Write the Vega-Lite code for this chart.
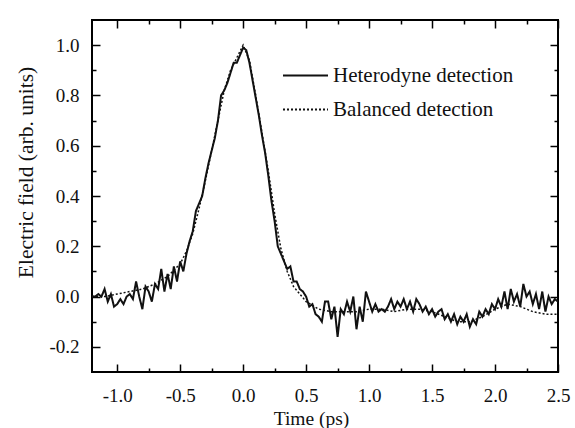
{
  "$schema": "https://vega.github.io/schema/vega-lite/v6.json",
  "autosize": {"type": "none"},
  "padding": {"left": 92, "top": 20, "right": 17, "bottom": 56},
  "width": 466,
  "height": 352,
  "background": "white",
  "config": {
    "view": {"stroke": "black", "strokeWidth": 2},
    "font": "Liberation Serif, Times New Roman, DejaVu Serif, serif",
    "legend": {"labelFont": "Liberation Serif, Times New Roman, DejaVu Serif, serif"},
    "axis": {"grid": false, "domain": false, "tickColor": "black", "tickWidth": 1.5, "labelFont": "Liberation Serif, Times New Roman, DejaVu Serif, serif", "titleFont": "Liberation Serif, Times New Roman, DejaVu Serif, serif", "labelColor": "#111", "titleColor": "#111", "titleFontWeight": "normal"}
  },
  "datasets": {
    "het": [
      {"t": -1.2, "v": 0.0, "s": "Heterodyne detection"},
      {"t": -1.175, "v": 0.0, "s": "Heterodyne detection"},
      {"t": -1.15, "v": 0.01, "s": "Heterodyne detection"},
      {"t": -1.125, "v": 0.0, "s": "Heterodyne detection"},
      {"t": -1.1, "v": 0.03, "s": "Heterodyne detection"},
      {"t": -1.075, "v": -0.02, "s": "Heterodyne detection"},
      {"t": -1.05, "v": 0.01, "s": "Heterodyne detection"},
      {"t": -1.025, "v": -0.04, "s": "Heterodyne detection"},
      {"t": -1.0, "v": -0.03, "s": "Heterodyne detection"},
      {"t": -0.975, "v": -0.01, "s": "Heterodyne detection"},
      {"t": -0.95, "v": -0.03, "s": "Heterodyne detection"},
      {"t": -0.925, "v": 0.0, "s": "Heterodyne detection"},
      {"t": -0.9, "v": 0.01, "s": "Heterodyne detection"},
      {"t": -0.875, "v": -0.01, "s": "Heterodyne detection"},
      {"t": -0.85, "v": 0.06, "s": "Heterodyne detection"},
      {"t": -0.825, "v": 0.0, "s": "Heterodyne detection"},
      {"t": -0.8, "v": -0.05, "s": "Heterodyne detection"},
      {"t": -0.775, "v": 0.04, "s": "Heterodyne detection"},
      {"t": -0.75, "v": 0.02, "s": "Heterodyne detection"},
      {"t": -0.725, "v": -0.02, "s": "Heterodyne detection"},
      {"t": -0.7, "v": 0.05, "s": "Heterodyne detection"},
      {"t": -0.675, "v": 0.03, "s": "Heterodyne detection"},
      {"t": -0.65, "v": 0.11, "s": "Heterodyne detection"},
      {"t": -0.625, "v": 0.02, "s": "Heterodyne detection"},
      {"t": -0.6, "v": 0.09, "s": "Heterodyne detection"},
      {"t": -0.575, "v": 0.03, "s": "Heterodyne detection"},
      {"t": -0.55, "v": 0.12, "s": "Heterodyne detection"},
      {"t": -0.525, "v": 0.06, "s": "Heterodyne detection"},
      {"t": -0.5, "v": 0.14, "s": "Heterodyne detection"},
      {"t": -0.475, "v": 0.1, "s": "Heterodyne detection"},
      {"t": -0.45, "v": 0.17, "s": "Heterodyne detection"},
      {"t": -0.425, "v": 0.22, "s": "Heterodyne detection"},
      {"t": -0.4, "v": 0.26, "s": "Heterodyne detection"},
      {"t": -0.375, "v": 0.34, "s": "Heterodyne detection"},
      {"t": -0.35, "v": 0.37, "s": "Heterodyne detection"},
      {"t": -0.325, "v": 0.4, "s": "Heterodyne detection"},
      {"t": -0.3, "v": 0.47, "s": "Heterodyne detection"},
      {"t": -0.275, "v": 0.53, "s": "Heterodyne detection"},
      {"t": -0.25, "v": 0.58, "s": "Heterodyne detection"},
      {"t": -0.225, "v": 0.63, "s": "Heterodyne detection"},
      {"t": -0.2, "v": 0.7, "s": "Heterodyne detection"},
      {"t": -0.175, "v": 0.8, "s": "Heterodyne detection"},
      {"t": -0.15, "v": 0.82, "s": "Heterodyne detection"},
      {"t": -0.125, "v": 0.85, "s": "Heterodyne detection"},
      {"t": -0.1, "v": 0.89, "s": "Heterodyne detection"},
      {"t": -0.075, "v": 0.93, "s": "Heterodyne detection"},
      {"t": -0.05, "v": 0.93, "s": "Heterodyne detection"},
      {"t": -0.025, "v": 0.96, "s": "Heterodyne detection"},
      {"t": 0.0, "v": 0.99, "s": "Heterodyne detection"},
      {"t": 0.025, "v": 0.98, "s": "Heterodyne detection"},
      {"t": 0.05, "v": 0.93, "s": "Heterodyne detection"},
      {"t": 0.075, "v": 0.86, "s": "Heterodyne detection"},
      {"t": 0.1, "v": 0.79, "s": "Heterodyne detection"},
      {"t": 0.125, "v": 0.72, "s": "Heterodyne detection"},
      {"t": 0.15, "v": 0.64, "s": "Heterodyne detection"},
      {"t": 0.175, "v": 0.57, "s": "Heterodyne detection"},
      {"t": 0.2, "v": 0.48, "s": "Heterodyne detection"},
      {"t": 0.225, "v": 0.38, "s": "Heterodyne detection"},
      {"t": 0.25, "v": 0.3, "s": "Heterodyne detection"},
      {"t": 0.275, "v": 0.2, "s": "Heterodyne detection"},
      {"t": 0.3, "v": 0.17, "s": "Heterodyne detection"},
      {"t": 0.325, "v": 0.14, "s": "Heterodyne detection"},
      {"t": 0.35, "v": 0.11, "s": "Heterodyne detection"},
      {"t": 0.375, "v": 0.12, "s": "Heterodyne detection"},
      {"t": 0.4, "v": 0.06, "s": "Heterodyne detection"},
      {"t": 0.425, "v": 0.06, "s": "Heterodyne detection"},
      {"t": 0.45, "v": 0.03, "s": "Heterodyne detection"},
      {"t": 0.475, "v": 0.02, "s": "Heterodyne detection"},
      {"t": 0.5, "v": 0.0, "s": "Heterodyne detection"},
      {"t": 0.525, "v": -0.04, "s": "Heterodyne detection"},
      {"t": 0.55, "v": -0.03, "s": "Heterodyne detection"},
      {"t": 0.575, "v": -0.07, "s": "Heterodyne detection"},
      {"t": 0.6, "v": -0.08, "s": "Heterodyne detection"},
      {"t": 0.625, "v": -0.1, "s": "Heterodyne detection"},
      {"t": 0.65, "v": -0.02, "s": "Heterodyne detection"},
      {"t": 0.675, "v": -0.02, "s": "Heterodyne detection"},
      {"t": 0.7, "v": -0.09, "s": "Heterodyne detection"},
      {"t": 0.725, "v": -0.04, "s": "Heterodyne detection"},
      {"t": 0.75, "v": -0.16, "s": "Heterodyne detection"},
      {"t": 0.775, "v": -0.05, "s": "Heterodyne detection"},
      {"t": 0.8, "v": -0.07, "s": "Heterodyne detection"},
      {"t": 0.825, "v": -0.02, "s": "Heterodyne detection"},
      {"t": 0.85, "v": -0.06, "s": "Heterodyne detection"},
      {"t": 0.875, "v": 0.0, "s": "Heterodyne detection"},
      {"t": 0.9, "v": -0.13, "s": "Heterodyne detection"},
      {"t": 0.925, "v": -0.04, "s": "Heterodyne detection"},
      {"t": 0.95, "v": -0.1, "s": "Heterodyne detection"},
      {"t": 0.975, "v": 0.02, "s": "Heterodyne detection"},
      {"t": 1.0, "v": -0.02, "s": "Heterodyne detection"},
      {"t": 1.025, "v": -0.06, "s": "Heterodyne detection"},
      {"t": 1.05, "v": -0.03, "s": "Heterodyne detection"},
      {"t": 1.075, "v": -0.06, "s": "Heterodyne detection"},
      {"t": 1.1, "v": -0.05, "s": "Heterodyne detection"},
      {"t": 1.125, "v": -0.06, "s": "Heterodyne detection"},
      {"t": 1.15, "v": -0.04, "s": "Heterodyne detection"},
      {"t": 1.175, "v": -0.01, "s": "Heterodyne detection"},
      {"t": 1.2, "v": -0.05, "s": "Heterodyne detection"},
      {"t": 1.225, "v": -0.02, "s": "Heterodyne detection"},
      {"t": 1.25, "v": -0.04, "s": "Heterodyne detection"},
      {"t": 1.275, "v": -0.01, "s": "Heterodyne detection"},
      {"t": 1.3, "v": -0.05, "s": "Heterodyne detection"},
      {"t": 1.325, "v": -0.02, "s": "Heterodyne detection"},
      {"t": 1.35, "v": -0.06, "s": "Heterodyne detection"},
      {"t": 1.375, "v": -0.01, "s": "Heterodyne detection"},
      {"t": 1.4, "v": -0.03, "s": "Heterodyne detection"},
      {"t": 1.425, "v": -0.06, "s": "Heterodyne detection"},
      {"t": 1.45, "v": -0.04, "s": "Heterodyne detection"},
      {"t": 1.475, "v": -0.07, "s": "Heterodyne detection"},
      {"t": 1.5, "v": -0.05, "s": "Heterodyne detection"},
      {"t": 1.525, "v": -0.08, "s": "Heterodyne detection"},
      {"t": 1.55, "v": -0.06, "s": "Heterodyne detection"},
      {"t": 1.575, "v": -0.05, "s": "Heterodyne detection"},
      {"t": 1.6, "v": -0.09, "s": "Heterodyne detection"},
      {"t": 1.625, "v": -0.07, "s": "Heterodyne detection"},
      {"t": 1.65, "v": -0.1, "s": "Heterodyne detection"},
      {"t": 1.675, "v": -0.07, "s": "Heterodyne detection"},
      {"t": 1.7, "v": -0.11, "s": "Heterodyne detection"},
      {"t": 1.725, "v": -0.08, "s": "Heterodyne detection"},
      {"t": 1.75, "v": -0.1, "s": "Heterodyne detection"},
      {"t": 1.775, "v": -0.07, "s": "Heterodyne detection"},
      {"t": 1.8, "v": -0.12, "s": "Heterodyne detection"},
      {"t": 1.825, "v": -0.09, "s": "Heterodyne detection"},
      {"t": 1.85, "v": -0.11, "s": "Heterodyne detection"},
      {"t": 1.875, "v": -0.06, "s": "Heterodyne detection"},
      {"t": 1.9, "v": -0.08, "s": "Heterodyne detection"},
      {"t": 1.925, "v": -0.05, "s": "Heterodyne detection"},
      {"t": 1.95, "v": -0.07, "s": "Heterodyne detection"},
      {"t": 1.975, "v": -0.03, "s": "Heterodyne detection"},
      {"t": 2.0, "v": -0.05, "s": "Heterodyne detection"},
      {"t": 2.025, "v": -0.01, "s": "Heterodyne detection"},
      {"t": 2.05, "v": -0.04, "s": "Heterodyne detection"},
      {"t": 2.075, "v": 0.02, "s": "Heterodyne detection"},
      {"t": 2.1, "v": -0.05, "s": "Heterodyne detection"},
      {"t": 2.125, "v": 0.03, "s": "Heterodyne detection"},
      {"t": 2.15, "v": -0.02, "s": "Heterodyne detection"},
      {"t": 2.175, "v": 0.01, "s": "Heterodyne detection"},
      {"t": 2.2, "v": -0.04, "s": "Heterodyne detection"},
      {"t": 2.225, "v": 0.05, "s": "Heterodyne detection"},
      {"t": 2.25, "v": 0.0, "s": "Heterodyne detection"},
      {"t": 2.275, "v": 0.02, "s": "Heterodyne detection"},
      {"t": 2.3, "v": -0.03, "s": "Heterodyne detection"},
      {"t": 2.325, "v": 0.01, "s": "Heterodyne detection"},
      {"t": 2.35, "v": -0.05, "s": "Heterodyne detection"},
      {"t": 2.375, "v": 0.02, "s": "Heterodyne detection"},
      {"t": 2.4, "v": -0.06, "s": "Heterodyne detection"},
      {"t": 2.425, "v": 0.0, "s": "Heterodyne detection"},
      {"t": 2.45, "v": -0.03, "s": "Heterodyne detection"},
      {"t": 2.475, "v": -0.01, "s": "Heterodyne detection"},
      {"t": 2.5, "v": -0.02, "s": "Heterodyne detection"}
    ],
    "bal": [
      {"t": -1.2, "v": 0.0, "s": "Balanced detection"},
      {"t": -1.1, "v": 0.0, "s": "Balanced detection"},
      {"t": -1.0, "v": 0.01, "s": "Balanced detection"},
      {"t": -0.9, "v": 0.02, "s": "Balanced detection"},
      {"t": -0.8, "v": 0.03, "s": "Balanced detection"},
      {"t": -0.7, "v": 0.05, "s": "Balanced detection"},
      {"t": -0.6, "v": 0.08, "s": "Balanced detection"},
      {"t": -0.5, "v": 0.13, "s": "Balanced detection"},
      {"t": -0.45, "v": 0.18, "s": "Balanced detection"},
      {"t": -0.4, "v": 0.25, "s": "Balanced detection"},
      {"t": -0.35, "v": 0.35, "s": "Balanced detection"},
      {"t": -0.3, "v": 0.46, "s": "Balanced detection"},
      {"t": -0.25, "v": 0.58, "s": "Balanced detection"},
      {"t": -0.2, "v": 0.7, "s": "Balanced detection"},
      {"t": -0.15, "v": 0.82, "s": "Balanced detection"},
      {"t": -0.1, "v": 0.9, "s": "Balanced detection"},
      {"t": -0.05, "v": 0.95, "s": "Balanced detection"},
      {"t": 0.0, "v": 1.0, "s": "Balanced detection"},
      {"t": 0.05, "v": 0.94, "s": "Balanced detection"},
      {"t": 0.1, "v": 0.8, "s": "Balanced detection"},
      {"t": 0.15, "v": 0.65, "s": "Balanced detection"},
      {"t": 0.2, "v": 0.5, "s": "Balanced detection"},
      {"t": 0.25, "v": 0.33, "s": "Balanced detection"},
      {"t": 0.3, "v": 0.19, "s": "Balanced detection"},
      {"t": 0.35, "v": 0.1, "s": "Balanced detection"},
      {"t": 0.4, "v": 0.04, "s": "Balanced detection"},
      {"t": 0.45, "v": 0.01, "s": "Balanced detection"},
      {"t": 0.5, "v": -0.02, "s": "Balanced detection"},
      {"t": 0.6, "v": -0.05, "s": "Balanced detection"},
      {"t": 0.7, "v": -0.06, "s": "Balanced detection"},
      {"t": 0.8, "v": -0.06, "s": "Balanced detection"},
      {"t": 0.9, "v": -0.06, "s": "Balanced detection"},
      {"t": 1.0, "v": -0.05, "s": "Balanced detection"},
      {"t": 1.1, "v": -0.05, "s": "Balanced detection"},
      {"t": 1.2, "v": -0.06, "s": "Balanced detection"},
      {"t": 1.3, "v": -0.05, "s": "Balanced detection"},
      {"t": 1.4, "v": -0.05, "s": "Balanced detection"},
      {"t": 1.5, "v": -0.06, "s": "Balanced detection"},
      {"t": 1.6, "v": -0.08, "s": "Balanced detection"},
      {"t": 1.7, "v": -0.1, "s": "Balanced detection"},
      {"t": 1.8, "v": -0.1, "s": "Balanced detection"},
      {"t": 1.9, "v": -0.08, "s": "Balanced detection"},
      {"t": 2.0, "v": -0.05, "s": "Balanced detection"},
      {"t": 2.1, "v": -0.03, "s": "Balanced detection"},
      {"t": 2.2, "v": -0.04, "s": "Balanced detection"},
      {"t": 2.3, "v": -0.06, "s": "Balanced detection"},
      {"t": 2.4, "v": -0.07, "s": "Balanced detection"},
      {"t": 2.5, "v": -0.07, "s": "Balanced detection"}
    ]
  },
  "resolve": {"axis": {"x": "independent", "y": "independent"}},
  "layer": [
    {
      "data": {"name": "bal"},
      "mark": {"type": "line", "stroke": "#111", "strokeWidth": 1.5, "clip": true},
      "encoding": {
        "x": {"field": "t", "type": "quantitative", "scale": {"domain": [-1.2, 2.5], "nice": false, "zero": false},
          "axis": {"orient": "bottom", "values": [-1, -0.5, 0, 0.5, 1, 1.5, 2, 2.5], "format": ".1f",
            "labelExpr": "replace(datum.label,'\u2212','-')",
            "ticks": false, "labelPadding": 14, "labelFontSize": 19, "labelFlush": false,
            "title": "Time (ps)", "titleFontSize": 19.5, "titleX": 219, "titleY": 52, "titleBaseline": "alphabetic", "titleAnchor": "middle", "titleAlign": "center"}},
        "y": {"field": "v", "type": "quantitative", "scale": {"domain": [-0.3, 1.1], "nice": false, "zero": false},
          "axis": {"orient": "left", "values": [-0.2, 0, 0.2, 0.4, 0.6, 0.8, 1.0], "format": ".1f",
            "labelExpr": "replace(datum.label,'\u2212','-')",
            "ticks": false, "labelPadding": 13, "labelFontSize": 19,
            "title": "Electric field (arb. units)", "titleFontSize": 21.5, "titleX": -60, "titleY": 152, "titleBaseline": "alphabetic", "titleAngle": -90, "titleAlign": "center"}},
        "strokeDash": {"field": "s", "type": "nominal",
          "scale": {"domain": ["Heterodyne detection", "Balanced detection"], "range": [[1, 0], [2, 2]]},
          "legend": {"orient": "none", "legendX": 190, "legendY": 32, "title": null, "symbolType": "stroke", "symbolSize": 2025, "symbolStrokeWidth": 2, "symbolStrokeColor": "#111", "labelFontSize": 21, "labelColor": "#111", "labelOffset": 4, "labelLimit": 400, "rowPadding": -24}}
      }
    },
    {
      "data": {"name": "het"},
      "mark": {"type": "line", "stroke": "#111", "strokeWidth": 2, "clip": true},
      "encoding": {
        "x": {"field": "t", "type": "quantitative",
          "axis": {"orient": "top", "offset": -352, "values": [-1, -0.75, -0.5, -0.25, 0, 0.25, 0.5, 0.75, 1, 1.25, 1.5, 1.75, 2, 2.25, 2.5],
            "labels": false, "title": null, "tickSize": 8,
            "tickDash": {"condition": {"test": "abs(datum.value*2-round(datum.value*2))<0.001", "value": [10, 0]}, "value": [4, 20]}}},
        "y": {"field": "v", "type": "quantitative",
          "axis": {"orient": "right", "offset": -466, "values": [-0.2, -0.1, 0, 0.1, 0.2, 0.3, 0.4, 0.5, 0.6, 0.7, 0.8, 0.9, 1.0],
            "labels": false, "title": null, "tickSize": 8,
            "tickDash": {"condition": {"test": "abs(datum.value*5-round(datum.value*5))<0.001", "value": [10, 0]}, "value": [4, 20]}}},
        "strokeDash": {"field": "s", "type": "nominal"}
      }
    },
    {
      "data": {"name": "bal"},
      "mark": {"type": "line", "opacity": 0},
      "encoding": {
        "x": {"field": "t", "type": "quantitative",
          "axis": {"orient": "bottom", "offset": -352, "values": [-1, -0.75, -0.5, -0.25, 0, 0.25, 0.5, 0.75, 1, 1.25, 1.5, 1.75, 2, 2.25, 2.5],
            "labels": false, "title": null, "tickSize": 8,
            "tickDash": {"condition": {"test": "abs(datum.value*2-round(datum.value*2))<0.001", "value": [10, 0]}, "value": [4, 20]}}},
        "y": {"field": "v", "type": "quantitative",
          "axis": {"orient": "left", "offset": -466, "values": [-0.2, -0.1, 0, 0.1, 0.2, 0.3, 0.4, 0.5, 0.6, 0.7, 0.8, 0.9, 1.0],
            "labels": false, "title": null, "tickSize": 8,
            "tickDash": {"condition": {"test": "abs(datum.value*5-round(datum.value*5))<0.001", "value": [10, 0]}, "value": [4, 20]}}}
      }
    }
  ]
}
